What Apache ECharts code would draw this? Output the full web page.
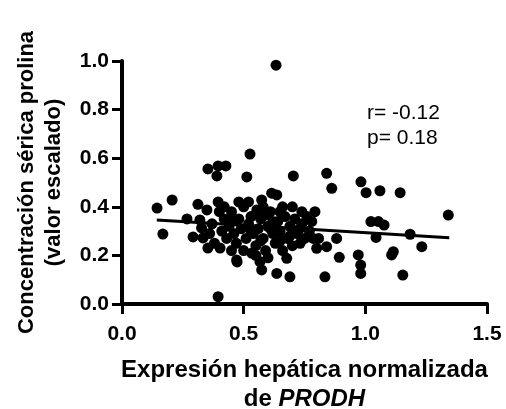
<!DOCTYPE html>
<html>
<head>
<meta charset="utf-8">
<script src="https://cdn.jsdelivr.net/npm/echarts@6/dist/echarts.min.js"></script>
<style>
  html, body { margin: 0; background: #fff; }
  #chart { width: 506px; height: 409px; }
</style>
</head>
<body>
<div id="chart"></div>
<script>
// PRODH expression (x) vs scaled serum proline (y)
const expressionX = [
  0.633, 0.395, 0.144, 0.206, 0.168, 0.267, 0.312, 0.349, 0.320, 0.292,
  0.333, 0.353, 0.403, 0.473, 0.353, 0.395, 0.427, 0.390, 0.395, 0.513,
  0.526, 0.704, 0.615, 0.636, 0.574, 0.554, 0.588, 0.649, 0.739, 0.793,
  0.841, 0.862, 0.982, 1.003, 1.060, 1.143, 1.341, 1.023, 1.054, 1.077,
  1.044, 1.184, 1.232, 0.971, 0.981, 0.981, 1.115, 1.108, 1.154, 0.457,
  0.471, 0.533, 0.574, 0.636, 0.690, 0.834, 0.893, 0.882, 0.800, 0.841,
  0.567, 0.677, 0.732, 0.786, 0.808, 0.327,
  0.40, 0.42, 0.44, 0.41, 0.43, 0.45, 0.46, 0.48, 0.49, 0.47,
  0.50, 0.51, 0.52, 0.53, 0.54, 0.55, 0.56, 0.57, 0.58, 0.59,
  0.60, 0.61, 0.62, 0.63, 0.64, 0.65, 0.66, 0.67, 0.68, 0.69,
  0.70, 0.71, 0.72, 0.74, 0.75, 0.76, 0.77, 0.78, 0.55, 0.60,
  0.50, 0.45, 0.37, 0.38, 0.36, 0.42, 0.58, 0.52, 0.66, 0.70,
  0.48, 0.62, 0.56, 0.53, 0.57, 0.61, 0.65, 0.69, 0.73
]
const prolineY = [
  0.983, 0.030, 0.395, 0.428, 0.288, 0.350, 0.410, 0.387, 0.346, 0.276,
  0.272, 0.230, 0.230, 0.173, 0.556, 0.568, 0.568, 0.527, 0.420, 0.523,
  0.617, 0.527, 0.456, 0.449, 0.428, 0.387, 0.366, 0.380, 0.380, 0.380,
  0.538, 0.476, 0.503, 0.458, 0.466, 0.458, 0.366, 0.339, 0.339, 0.325,
  0.274, 0.287, 0.236, 0.202, 0.160, 0.126, 0.215, 0.202, 0.119, 0.346,
  0.181, 0.209, 0.140, 0.126, 0.112, 0.112, 0.192, 0.270, 0.229, 0.236,
  0.174, 0.188, 0.250, 0.270, 0.270, 0.313,
  0.38, 0.35, 0.32, 0.30, 0.27, 0.38, 0.29, 0.35, 0.31, 0.25,
  0.40, 0.27, 0.33, 0.36, 0.29, 0.24, 0.31, 0.35, 0.27, 0.22,
  0.32, 0.38, 0.29, 0.25, 0.34, 0.30, 0.22, 0.36, 0.27, 0.32,
  0.24, 0.35, 0.29, 0.33, 0.27, 0.36, 0.30, 0.34, 0.20, 0.19,
  0.22, 0.22, 0.33, 0.25, 0.29, 0.40, 0.40, 0.42, 0.40, 0.40,
  0.42, 0.34, 0.37, 0.30, 0.26, 0.31, 0.26, 0.28, 0.31
]

// regression line end points
const fitX = [0.143, 1.345]
const fitY = [0.346, 0.273]

const statLines = ["r= -0.12", "p= 0.18"]

const font = "'Liberation Sans', Arial, Helvetica, sans-serif"

const chart = echarts.init(document.getElementById("chart"))

const points = expressionX.map((x, i) => [x, prolineY[i]])
const fitLine = fitX.map((x, i) => [x, fitY[i]])

const option = {
  animation: false,
  backgroundColor: "#fff",
  grid: {
    left: 122,
    right: 19,
    top: 61,
    bottom: 105,
    outerBoundsMode: "none",
  },
  xAxis: {
    type: "value",
    min: 0,
    max: 1.5,
    interval: 0.5,
    name: "Expresión hepática normalizada\nde {i|PRODH}",
    nameLocation: "middle",
    nameGap: 52,
    nameTextStyle: {
      color: "#000",
      fontFamily: font,
      fontWeight: "bold",
      fontSize: 24,
      lineHeight: 29,
      rich: {
        i: {
          fontFamily: font,
          fontWeight: "bold",
          fontStyle: "italic",
          fontSize: 24,
          lineHeight: 29,
          color: "#000",
        },
      },
    },
    axisLine: { lineStyle: { color: "#000", width: 4 } },
    axisTick: { length: 10, lineStyle: { color: "#000", width: 3 } },
    axisLabel: {
      color: "#000",
      fontFamily: font,
      fontWeight: "bold",
      fontSize: 21,
      margin: 20,
      formatter: (v) => v.toFixed(1),
    },
    splitLine: { show: false },
  },
  yAxis: {
    type: "value",
    min: 0,
    max: 1.0,
    interval: 0.2,
    name: "Concentración sérica prolina\n(valor escalado)",
    nameLocation: "middle",
    nameGap: 55,
    nameTextStyle: {
      color: "#000",
      fontFamily: font,
      fontWeight: "bold",
      fontSize: 22,
      lineHeight: 27,
    },
    axisLine: { lineStyle: { color: "#000", width: 4 } },
    axisTick: { length: 10, lineStyle: { color: "#000", width: 3 } },
    axisLabel: {
      color: "#000",
      fontFamily: font,
      fontWeight: "bold",
      fontSize: 21,
      margin: 13,
      formatter: (v) => v.toFixed(1),
    },
    splitLine: { show: false },
  },
  graphic: statLines.map((t, i) => ({
    type: "text",
    left: 367,
    top: 103 + i * 25,
    style: {
      text: t,
      fill: "#000",
      font: "21px " + font,
    },
  })),
  series: [
    {
      type: "scatter",
      data: points,
      symbol: "circle",
      symbolSize: 11,
      itemStyle: { color: "#000", opacity: 1 },
    },
    {
      type: "line",
      data: fitLine,
      symbol: "none",
      lineStyle: { color: "#000", width: 3 },
      z: 3,
    },
  ],
}

chart.setOption(option)
</script>
</body>
</html>
